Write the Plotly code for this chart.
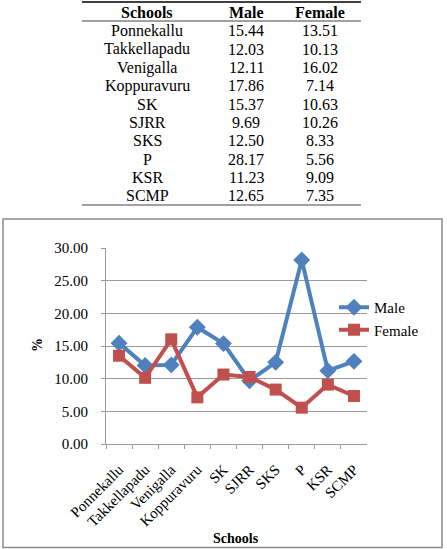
import plotly.graph_objects as go

schools = ["Ponnekallu", "Takkellapadu", "Venigalla", "Koppuravuru", "SK",
           "SJRR", "SKS", "P", "KSR", "SCMP"]
male = [15.44, 12.03, 12.11, 17.86, 15.37, 9.69, 12.50, 28.17, 11.23, 12.65]
female = [13.51, 10.13, 16.02, 7.14, 10.63, 10.26, 8.33, 5.56, 9.09, 7.35]
headers = ["Schools", "Male", "Female"]

W, H = 447, 549
FONT = "'Liberation Serif', 'Times New Roman', 'DejaVu Serif', serif"
BLUE = "#4F81BD"
RED = "#C0504D"
GRID = "#9a9a9a"

def px(x):
    return x / W

def py(y):
    return 1 - y / H

fig = go.Figure()
fig.add_trace(go.Scatter(x=schools, y=male, name="Male", mode="lines+markers",
                         line=dict(color=BLUE, width=4),
                         marker=dict(symbol="diamond", size=13, color=BLUE)))
fig.add_trace(go.Scatter(x=schools, y=female, name="Female", mode="lines+markers",
                         line=dict(color=RED, width=4),
                         marker=dict(symbol="square", size=12, color=RED)))

# table
col_x = [147, 246, 320]
annotations = []
for cx, h in zip(col_x, headers):
    annotations.append(dict(x=px(cx), y=py(12), xref="paper", yref="paper",
                            xanchor="center", yanchor="middle",
                            text="<b>%s</b>" % h, showarrow=False,
                            font=dict(family=FONT, size=16, color="black")))
row0, dy = 31, 18.3
for i, (s, m, f) in enumerate(zip(schools, male, female)):
    yy = row0 + i * dy
    for cx, t in zip(col_x, [s, "%.2f" % m, "%.2f" % f]):
        annotations.append(dict(x=px(cx), y=py(yy), xref="paper", yref="paper",
                                xanchor="center", yanchor="middle",
                                text=t, showarrow=False,
                                font=dict(family=FONT, size=16, color="black")))

annotations.append(dict(x=px(37), y=py(345), xref="paper", yref="paper",
                        xanchor="center", yanchor="middle",
                        text="<b>%</b>", textangle=-90, showarrow=False,
                        font=dict(family=FONT, size=14, color="black")))
annotations.append(dict(x=px(236), y=py(538), xref="paper", yref="paper",
                        xanchor="center", yanchor="middle",
                        text="<b>Schools</b>", showarrow=False,
                        font=dict(family=FONT, size=14, color="black")))

shapes = [
    dict(type="line", xref="paper", yref="paper", x0=px(82), x1=px(361),
         y0=py(2), y1=py(2), line=dict(color="black", width=1.5)),
    dict(type="line", xref="paper", yref="paper", x0=px(82), x1=px(361),
         y0=py(21), y1=py(21), line=dict(color="#444", width=1)),
    dict(type="line", xref="paper", yref="paper", x0=px(82), x1=px(361),
         y0=py(205), y1=py(205), line=dict(color="#444", width=1)),
    dict(type="rect", xref="paper", yref="paper", x0=px(3), x1=px(442),
         y0=py(219), y1=py(547.5), line=dict(color="#8c8c8c", width=1.5)),
]

fig.update_layout(
    width=W, height=H, margin=dict(l=0, r=0, t=0, b=0, autoexpand=False),
    paper_bgcolor="white", plot_bgcolor="white",
    font=dict(family=FONT, size=14, color="black"),
    annotations=annotations, shapes=shapes,
    legend=dict(x=px(334), y=py(291), xanchor="left", yanchor="top",
                font=dict(family=FONT, size=15), tracegroupgap=10,
                itemwidth=30, bgcolor="rgba(0,0,0,0)"),
    xaxis=dict(domain=[px(106), px(367)], range=[-0.5, 9.5], automargin=False,
               tickangle=-45, showgrid=False, showline=True, linecolor=GRID,
               ticks="outside", tickson="boundaries", ticklen=4, tickcolor=GRID,
               ticklabelstandoff=10,
               tickfont=dict(family=FONT, size=15), anchor="y"),
    yaxis=dict(domain=[py(444), py(248)], range=[0, 30], dtick=5, automargin=False,
               tickformat=".2f", showgrid=True, gridcolor=GRID, gridwidth=1,
               showline=True, linecolor=GRID, ticks="outside", ticklen=4,
               tickcolor=GRID, ticklabelstandoff=10, zeroline=False,
               tickfont=dict(family=FONT, size=15)),
)

fig.write_html("out.html")
